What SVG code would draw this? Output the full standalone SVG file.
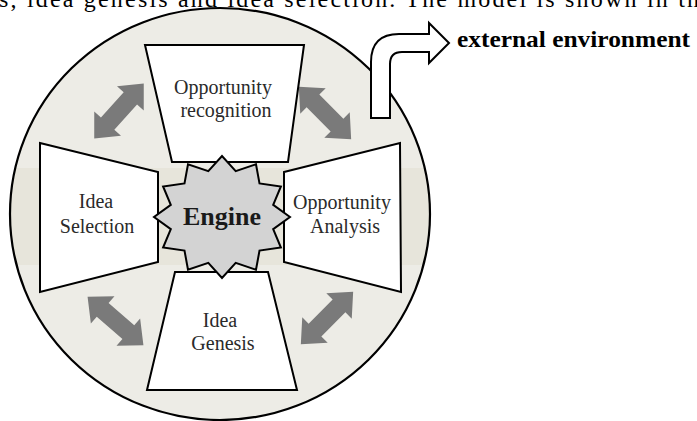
<svg xmlns="http://www.w3.org/2000/svg" width="697" height="421" viewBox="0 0 697 421">
<style>
.box{fill:#fff;stroke:#000;stroke-width:2;stroke-linejoin:miter}
.lbl{font-family:"Liberation Serif","Times New Roman",serif;font-size:20px;fill:#2a2a2a;text-anchor:middle}
.dbl{fill:#7a7a7a}
</style>
<defs>
<path id="dblarrow" d="M-37,0 L-17,-18 L-17,-9 L17,-9 L17,-18 L37,0 L17,18 L17,9 L-17,9 L-17,18 Z"/>
<clipPath id="circ"><ellipse cx="220" cy="214" rx="210" ry="206"/></clipPath>
</defs>
<rect width="697" height="421" fill="#fff"/>
<text x="-1" y="7" font-family="'Liberation Serif','Times New Roman',serif" font-size="24" fill="#000" textLength="700" lengthAdjust="spacing">s, idea genesis and idea selection. The model is shown in th</text>
<g id="circle">
<ellipse cx="220" cy="214" rx="210" ry="206" fill="#edece6"/>
<rect x="0" y="168" width="440" height="97" fill="#e7e5db" clip-path="url(#circ)"/>
<ellipse cx="220" cy="214" rx="210" ry="206" fill="none" stroke="#000" stroke-width="2.2"/>
</g>
<g id="connectors">
<use href="#dblarrow" class="dbl" transform="translate(119,111) rotate(-48)"/>
<use href="#dblarrow" class="dbl" transform="translate(325,113) rotate(45)"/>
<use href="#dblarrow" class="dbl" transform="translate(115.5,321) rotate(41)"/>
<use href="#dblarrow" class="dbl" transform="translate(327,318) rotate(-45)"/>
<path d="M371,118 L371,62 Q371,34 399,34 L429,34 L429,23 L449,43 L429,63 L429,52 L402,52 Q390,52 390,64 L390,118 Z" fill="#fff" stroke="#000" stroke-width="2"/>
</g>
<g id="node-opportunity-recognition">
<polygon class="box" points="145,45 304,45 288,162 172,162"/>
<text class="lbl" x="223" y="94">Opportunity</text>
<text class="lbl" x="226" y="117">recognition</text>
</g>
<g id="node-idea-selection">
<polygon class="box" points="40,143 158,172 158,262 40,292"/>
<text class="lbl" x="96" y="208">Idea</text>
<text class="lbl" x="97" y="233">Selection</text>
</g>
<g id="node-opportunity-analysis">
<polygon class="box" points="284,172 400,143 401,292 284,262"/>
<text class="lbl" x="342" y="209">Opportunity</text>
<text class="lbl" x="345" y="233">Analysis</text>
</g>
<g id="node-idea-genesis">
<polygon class="box" points="175,272 268,272 297,390 147,390"/>
<text class="lbl" x="220" y="327">Idea</text>
<text class="lbl" x="223" y="350">Genesis</text>
</g>
<g id="node-engine">
<polygon points="290,217 273.2,204.8 280.9,186.5 259.5,183.4 256,164.2 235.7,171.1 222,156 208.3,171.1 188,164.2 184.5,183.4 163.1,186.5 170.8,204.8 154,217 170.8,229.2 163.1,247.5 184.5,250.6 188,269.8 208.3,262.9 222,278 235.7,262.9 256,269.8 259.5,250.6 280.9,247.5 273.2,229.2" fill="#d3d3d3" stroke="#000" stroke-width="2" stroke-linejoin="miter"/>
<text x="222" y="225" font-family="'Liberation Serif','Times New Roman',serif" font-size="26" font-weight="bold" fill="#1a1a1a" text-anchor="middle">Engine</text>
</g>
<g id="node-external-environment">
<text x="457" y="47" font-family="'Liberation Serif','Times New Roman',serif" font-size="24" font-weight="bold" fill="#000" textLength="233" lengthAdjust="spacingAndGlyphs">external environment</text>
</g>
</svg>
